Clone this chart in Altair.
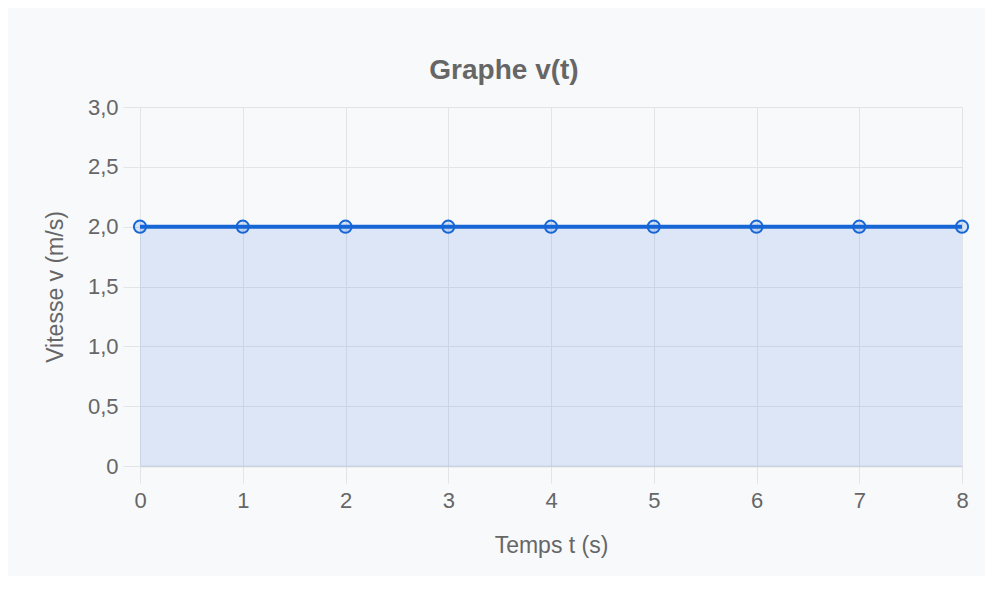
import altair as alt
import pandas as pd

# Data
t_values = [0, 1, 2, 3, 4, 5, 6, 7, 8]
v_values = [2.0, 2.0, 2.0, 2.0, 2.0, 2.0, 2.0, 2.0, 2.0]
x_ticks = [0, 1, 2, 3, 4, 5, 6, 7, 8]
y_ticks = [0, 0.5, 1.0, 1.5, 2.0, 2.5, 3.0]

df = pd.DataFrame({"t": t_values, "v": v_values})

FONT = "Liberation Sans"
BLUE = "#1766d6"
GRID = "#e2e4e8"
TEXT = "#666666"

x_enc = alt.X(
    "t:Q",
    scale=alt.Scale(domain=[0, 8], nice=False, zero=False),
    axis=alt.Axis(
        values=x_ticks, format="d", title="Temps t (s)",
        grid=True, gridColor=GRID, gridWidth=1,
        tickColor=GRID, tickSize=17, tickWidth=1,
        domainColor="#cdd3dc", domainWidth=1.5,
        labelFlush=False,
        labelFont=FONT, labelFontSize=22, labelColor=TEXT, labelPadding=7,
        titleFont=FONT, titleFontSize=23, titleColor=TEXT,
        titleFontWeight="normal", titlePadding=23,
    ),
)
y_enc = alt.Y(
    "v:Q",
    scale=alt.Scale(domain=[0, 3], nice=False),
    axis=alt.Axis(
        values=y_ticks, title="Vitesse v (m/s)",
        labelExpr="datum.value == 0 ? '0' : replace(format(datum.value, '.1f'), '.', ',')",
        grid=True, gridColor=GRID, gridWidth=1,
        tickColor=GRID, tickSize=17, tickWidth=1,
        domainColor=GRID, domainWidth=1,
        labelFlush=False,
        labelFont=FONT, labelFontSize=22, labelColor=TEXT, labelPadding=5,
        titleFont=FONT, titleFontSize=23, titleColor=TEXT,
        titleFontWeight="normal", titlePadding=20,
    ),
)

base = alt.Chart(df)

area = base.mark_area(color=BLUE, opacity=0.12).encode(x=x_enc, y=y_enc)
line = base.mark_line(color=BLUE, strokeWidth=4).encode(x="t:Q", y="v:Q")
points = base.mark_point(
    shape="circle", size=150, stroke=BLUE, strokeWidth=2,
    fill=BLUE, fillOpacity=0.15, opacity=1,
).encode(x="t:Q", y="v:Q")

chart = (
    alt.layer(area, line, points)
    .properties(
        width=822,
        height=359,
        autosize=alt.AutoSizeParams(type="none"),
        padding={"left": 132, "top": 99, "right": 23, "bottom": 110},
        background="#f8f9fb",
        title=alt.TitleParams(
            "Graphe v(t)", font=FONT, fontSize=28, fontWeight="bold",
            color=TEXT, anchor="middle", offset=11, dx=-47,
        ),
    )
    .configure_view(strokeWidth=0)
)

chart.save("out.html", embed_options={"renderer": "svg", "actions": False})
